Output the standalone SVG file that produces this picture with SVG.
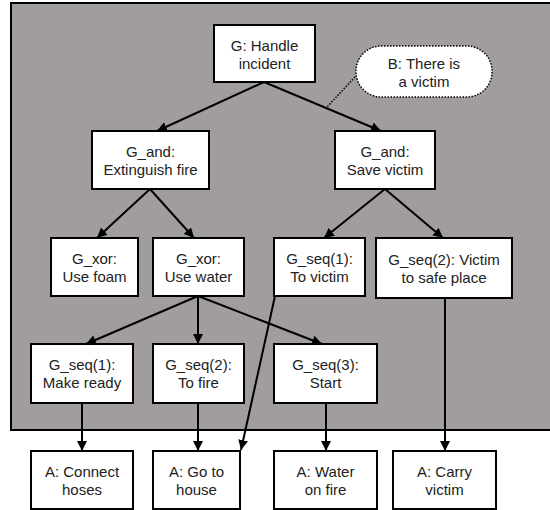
<svg xmlns="http://www.w3.org/2000/svg" width="550" height="510" viewBox="0 0 550 510">
<defs>
<marker id="ah" viewBox="0 0 10 10" refX="10" refY="5" markerWidth="5" markerHeight="5" orient="auto" markerUnits="strokeWidth">
<path d="M0,0 L10,5 L0,10 z" fill="#000"/>
</marker>
<style>
.box{fill:#fff;stroke:#000;stroke-width:2}
.t{font-family:"Liberation Sans",Arial,sans-serif;font-size:15px;fill:#222;text-anchor:middle}
.e{stroke:#000;stroke-width:2;fill:none;marker-end:url(#ah)}
</style>
</defs>
<rect x="0" y="0" width="550" height="510" fill="#fff"/>
<rect x="11" y="3" width="545" height="427" fill="#a19d9d" stroke="#000" stroke-width="2"/>
<g id="connectors">
<line class="e" x1="264" y1="82" x2="157" y2="131"/>
<line class="e" x1="264" y1="82" x2="381" y2="131"/>
<line x1="355" y1="77" x2="327" y2="107" stroke="#000" stroke-width="1.5" stroke-dasharray="1.5,1.5"/>
<line class="e" x1="150" y1="189" x2="97" y2="238"/>
<line class="e" x1="150" y1="189" x2="194" y2="238"/>
<line class="e" x1="385" y1="189" x2="324" y2="238"/>
<line class="e" x1="385" y1="189" x2="443" y2="238"/>
<line class="e" x1="198" y1="296" x2="86" y2="344"/>
<line class="e" x1="198" y1="296" x2="198" y2="344"/>
<line class="e" x1="198" y1="296" x2="322" y2="344"/>
<line class="e" x1="275" y1="296" x2="241" y2="450"/>
<line class="e" x1="82" y1="403" x2="82" y2="451"/>
<line class="e" x1="198" y1="403" x2="198" y2="451"/>
<line class="e" x1="326" y1="403" x2="326" y2="451"/>
<line class="e" x1="445" y1="298" x2="445" y2="451"/>
</g>
<g id="n_handle"><rect class="box" x="214" y="25" width="101" height="57"/><text class="t" x="264.5" y="51">G: Handle</text><text class="t" x="264.5" y="69">incident</text></g>
<g id="n_victim_belief"><rect x="356" y="46" width="136" height="51" rx="25" ry="25" fill="#fff" stroke="#000" stroke-width="1.5" stroke-dasharray="1.5,1.5"/><text class="t" x="424" y="69">B: There is</text><text class="t" x="424" y="87">a victim</text></g>
<g id="n_extinguish"><rect class="box" x="92" y="131" width="117" height="58"/><text class="t" x="150.5" y="157">G_and:</text><text class="t" x="150.5" y="175">Extinguish fire</text></g>
<g id="n_save"><rect class="box" x="335" y="131" width="100" height="58"/><text class="t" x="385" y="157">G_and:</text><text class="t" x="385" y="175">Save victim</text></g>
<g id="n_foam"><rect class="box" x="51" y="238" width="87" height="58"/><text class="t" x="94.5" y="264">G_xor:</text><text class="t" x="94.5" y="282">Use foam</text></g>
<g id="n_water"><rect class="box" x="153" y="238" width="91" height="58"/><text class="t" x="198.5" y="264">G_xor:</text><text class="t" x="198.5" y="282">Use water</text></g>
<g id="n_tovictim"><rect class="box" x="274" y="238" width="91" height="58"/><text class="t" x="319.5" y="264">G_seq(1):</text><text class="t" x="319.5" y="282">To victim</text></g>
<g id="n_safeplace"><rect class="box" x="376" y="238" width="136" height="60"/><text class="t" x="444" y="265">G_seq(2): Victim</text><text class="t" x="444" y="283">to safe place</text></g>
<g id="n_makeready"><rect class="box" x="31" y="344" width="102" height="59"/><text class="t" x="82" y="370">G_seq(1):</text><text class="t" x="82" y="388">Make ready</text></g>
<g id="n_tofire"><rect class="box" x="153" y="344" width="91" height="59"/><text class="t" x="198.5" y="370">G_seq(2):</text><text class="t" x="198.5" y="388">To fire</text></g>
<g id="n_start"><rect class="box" x="274" y="344" width="103" height="59"/><text class="t" x="325.5" y="370">G_seq(3):</text><text class="t" x="325.5" y="388">Start</text></g>
<g id="a_hoses"><rect class="box" x="31" y="451" width="102" height="58"/><text class="t" x="82" y="477">A: Connect</text><text class="t" x="82" y="495">hoses</text></g>
<g id="a_house"><rect class="box" x="153" y="451" width="87" height="58"/><text class="t" x="196.5" y="477">A: Go to</text><text class="t" x="196.5" y="495">house</text></g>
<g id="a_wateronfire"><rect class="box" x="274" y="451" width="103" height="58"/><text class="t" x="325.5" y="477">A: Water</text><text class="t" x="325.5" y="495">on fire</text></g>
<g id="a_carry"><rect class="box" x="393" y="451" width="103" height="58"/><text class="t" x="444.5" y="477">A: Carry</text><text class="t" x="444.5" y="495">victim</text></g>
</svg>
